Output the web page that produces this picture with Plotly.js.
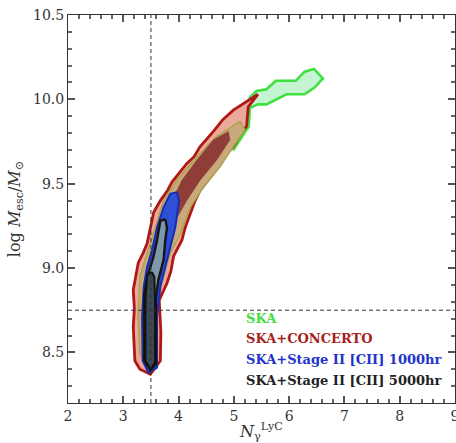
<!DOCTYPE html>
<html>
<head>
<meta charset="utf-8">
<script src="https://cdn.plot.ly/plotly-3.0.1.min.js"></script>
<style>html,body{margin:0;padding:0;background:#fff;}#chart{width:456px;height:443px;}</style>
</head>
<body>
<div id="chart"></div>
<script>
// SKA (green) contour
const skaX = [5.30, 5.41, 5.59, 5.76, 6.12, 6.28, 6.45, 6.61, 6.46, 6.28, 5.95, 5.77, 5.59, 5.44, 5.29, 5.27, 5.14, 5.00, 4.97, 5.15, 5.28];
const skaY = [10.015, 10.05, 10.06, 10.11, 10.11, 10.164, 10.18, 10.124, 10.07, 10.03, 10.03, 10.0, 9.97, 9.97, 9.95, 9.84, 9.775, 9.705, 9.72, 9.85, 10.0];
// SKA+CONCERTO outer (95%)
const concOuterX = [5.435, 4.99, 4.80, 4.63, 4.39, 4.28, 4.15, 3.88, 3.80, 3.67, 3.55, 3.52, 3.43, 3.36, 3.27, 3.18, 3.20, 3.18, 3.21, 3.30, 3.49, 3.67, 3.68, 3.65, 3.72, 3.79, 3.86, 3.91, 4.06, 4.12, 4.21, 4.30, 4.39, 4.63, 4.75, 4.99, 5.12, 5.23, 5.26];
const concOuterY = [10.03, 9.936, 9.88, 9.81, 9.72, 9.66, 9.62, 9.51, 9.46, 9.40, 9.33, 9.28, 9.145, 9.09, 9.03, 8.87, 8.76, 8.65, 8.45, 8.40, 8.37, 8.45, 8.62, 8.81, 8.86, 8.91, 8.98, 9.07, 9.165, 9.24, 9.32, 9.40, 9.46, 9.56, 9.64, 9.72, 9.79, 9.84, 9.956];
// SKA+CONCERTO middle band
const concMidX = [5.11, 4.69, 4.33, 3.97, 3.73, 3.58, 3.43, 3.30, 3.27, 3.30, 3.455, 3.61, 3.61, 3.73, 3.85, 4.03, 4.21, 4.45, 4.75, 4.99, 5.20];
const concMidY = [9.87, 9.78, 9.66, 9.52, 9.40, 9.24, 9.09, 8.95, 8.71, 8.49, 8.41, 8.49, 8.81, 8.95, 9.09, 9.20, 9.36, 9.48, 9.60, 9.72, 9.82];
// SKA+CONCERTO inner (68%)
const concInnerX = [4.90, 4.63, 4.33, 4.06, 3.88, 3.80, 3.72, 3.80, 3.94, 4.15, 4.39, 4.69, 4.93];
const concInnerY = [9.81, 9.76, 9.64, 9.52, 9.40, 9.30, 9.18, 9.18, 9.28, 9.40, 9.52, 9.64, 9.76];
// SKA+Stage II [CII] 1000hr
const s1000X = [3.97, 3.85, 3.73, 3.61, 3.52, 3.43, 3.37, 3.34, 3.35, 3.455, 3.61, 3.61, 3.67, 3.76, 3.85, 3.94, 4.01];
const s1000Y = [9.45, 9.44, 9.36, 9.24, 9.105, 9.006, 8.89, 8.71, 8.45, 8.38, 8.41, 8.71, 8.89, 9.006, 9.125, 9.24, 9.40];
// SKA+Stage II [CII] 5000hr outer
const s5000OuterX = [3.76, 3.67, 3.61, 3.545, 3.455, 3.38, 3.38, 3.49, 3.59, 3.59, 3.635, 3.73, 3.76, 3.79];
const s5000OuterY = [9.29, 9.28, 9.165, 9.066, 8.97, 8.85, 8.45, 8.397, 8.43, 8.82, 8.93, 9.05, 9.165, 9.24];
// SKA+Stage II [CII] 5000hr inner
const s5000InnerX = [3.515, 3.43, 3.40, 3.40, 3.49, 3.575, 3.575, 3.56];
const s5000InnerY = [8.977, 8.957, 8.81, 8.45, 8.40, 8.44, 8.81, 8.95];

const legendLabels = ["SKA", "SKA+CONCERTO", "SKA+Stage II [CII] 1000hr", "SKA+Stage II [CII] 5000hr"];
const legendColors = ["#44dd44", "#a52222", "#2233cc", "#222222"];
const refX = 3.5;
const refY = 8.75;

function poly(x, y, fill, lineColor, lineWidth) {
  return {
    type: 'scatter', mode: 'lines', x: x.concat([x[0]]), y: y.concat([y[0]]),
    fill: 'toself', fillcolor: fill,
    line: {color: lineColor, width: lineWidth},
    hoverinfo: 'skip', showlegend: false
  };
}

const traces = [
  poly(skaX, skaY, '#c4f4d2', '#3fe03f', 2.6),
  poly(concOuterX, concOuterY, '#eba999', '#b01818', 2.8),
  poly(concMidX, concMidY, '#c9a97c', '#aaa54a', 1.5),
  poly(concInnerX, concInnerY, '#8e3d38', '#8e3d38', 0.5),
  poly(s1000X, s1000Y, '#2d50d6', '#1c2cb0', 2),
  poly(s5000OuterX, s5000OuterY, '#7f97ab', '#151515', 2.4),
  poly(s5000InnerX, s5000InnerY, '#3c4854', '#111111', 2)
];

const fontFam = "DejaVu Serif";
const annYs = [0.219, 0.166, 0.112, 0.057];
const annotations = legendLabels.map((t, i) => ({
  xref: 'paper', yref: 'paper', x: 0.455, y: annYs[i], xanchor: 'left', yanchor: 'middle',
  text: '<b>' + t + '</b>', showarrow: false,
  font: {family: fontFam, size: 13, color: legendColors[i]}
}));

const layout = {
  width: 456, height: 443,
  margin: {l: 68, r: 1, t: 15, b: 40},
  showlegend: false,
  font: {family: fontFam, size: 14, color: '#333'},
  xaxis: {
    range: [2, 9], dtick: 1, tick0: 2,
    ticks: 'inside', ticklen: 7, tickwidth: 2, tickcolor: '#555555',
    showline: true, linecolor: '#333333', mirror: 'allticks', showgrid: false, zeroline: false,
    ticklabeloverflow: 'allow',
    minor: {dtick: 0.2, ticks: 'inside', ticklen: 4, tickwidth: 2, tickcolor: '#666666'},
    title: {text: '<i>N</i><sub>γ</sub><sup>LyC</sup>', font: {size: 16}, standoff: 4}
  },
  yaxis: {
    range: [8.2, 10.5], dtick: 0.5, tick0: 8.5, tickformat: '.1f',
    ticks: 'inside', ticklen: 7, tickwidth: 2, tickcolor: '#555555',
    showline: true, linecolor: '#333333', mirror: 'allticks', showgrid: false, zeroline: false,
    minor: {dtick: 0.1, ticks: 'inside', ticklen: 4, tickwidth: 2, tickcolor: '#666666'},
    title: {text: 'log <i>M</i><sub>esc</sub>/<i>M</i><sub>⊙</sub>', font: {size: 16}, standoff: 8}
  },
  shapes: [
    {type: 'line', xref: 'x', yref: 'paper', x0: refX, x1: refX, y0: 0, y1: 1, line: {color: '#333', width: 1, dash: '4px,3px'}},
    {type: 'line', xref: 'paper', yref: 'y', x0: 0, x1: 1, y0: refY, y1: refY, line: {color: '#333', width: 1, dash: '4px,3px'}}
  ],
  annotations: annotations
};

Plotly.newPlot('chart', traces, layout, {displayModeBar: false});
</script>
</body>
</html>
